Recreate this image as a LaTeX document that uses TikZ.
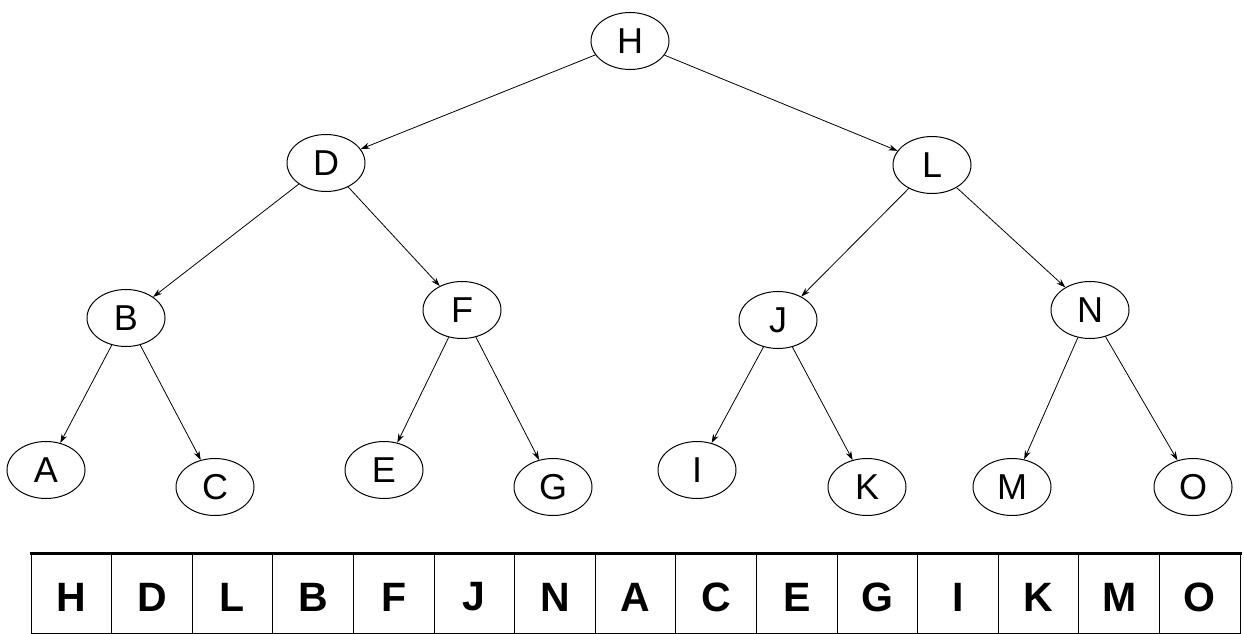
\documentclass[tikz,border=0pt]{standalone}
\usepackage{fontspec}
\setmainfont{Liberation Sans}
\usetikzlibrary{shapes.geometric,arrows.meta}
\begin{document}
\begin{tikzpicture}[x=1pt,y=-1pt,
  tn/.style={ellipse,draw,line width=1pt,minimum width=78pt,minimum height=57pt,inner sep=0pt,font=\fontsize{36}{38}\selectfont},
  ed/.style={draw,line width=0.8pt,-{Stealth[length=9pt,width=6pt]}},
  cell/.style={font=\fontsize{41}{43}\selectfont\bfseries}]
\useasboundingbox (0,0) rectangle (1244,634);
\fill[white] (0,0) rectangle (1244,634);
\node[tn] (H) at (630,41) {H};
\node[tn] (D) at (326,163) {D};
\node[tn] (L) at (932,165) {L};
\node[tn] (B) at (126,318) {B};
\node[tn] (F) at (462,310) {F};
\node[tn] (J) at (778,320) {J};
\node[tn] (N) at (1090,310) {N};
\node[tn] (A) at (46,470) {A};
\node[tn] (C) at (215,487) {C};
\node[tn] (E) at (384,470) {E};
\node[tn] (G) at (553,487) {G};
\node[tn] (I) at (697,470) {I};
\node[tn] (K) at (867,487) {K};
\node[tn] (M) at (1012,487) {M};
\node[tn] (O) at (1193,487) {O};
\foreach \p/\c in {H/D,H/L,D/B,D/F,L/J,L/N,B/A,B/C,F/E,F/G,J/I,J/K,N/M,N/O}
  \draw[ed] (\p) -- (\c);
% array
\draw[line width=1pt] (31,553) rectangle (1240,633);
\draw[line width=3pt] (29.5,553) -- (1241.5,553);
\foreach [count=\i] \t in {H,D,L,B,F,J,N,A,C,E,G,I,K,M,O} {
  \pgfmathsetmacro{\xl}{31+(\i-1)*80.6}
  \pgfmathsetmacro{\xc}{\xl+40.3}
  \node[cell] (c\i) at (\xc,597) {\t};
  \ifnum\i>1 \draw[line width=1pt] (\xl,553) -- (\xl,633); \fi
}
\end{tikzpicture}
\end{document}
